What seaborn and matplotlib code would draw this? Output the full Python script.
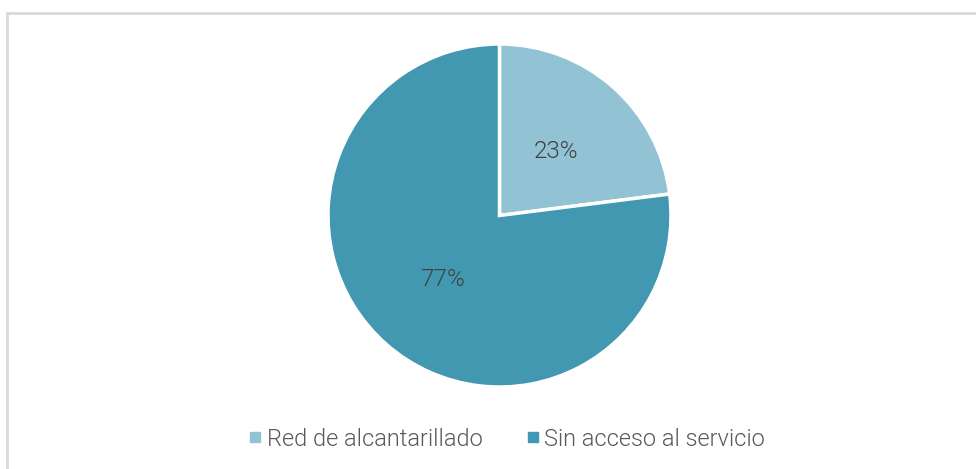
import matplotlib
matplotlib.use('Agg')
import matplotlib.pyplot as plt
from matplotlib.patches import Rectangle
from matplotlib.lines import Line2D
import seaborn as sns

categories = ['Red de alcantarillado', 'Sin acceso al servicio']
shares = [23, 77]
colors = ['#92C3D5', '#4298B0']

sns.set_theme(style='white')
plt.rcParams['font.family'] = ['Roboto', 'DejaVu Sans']

W, H = 976, 469
fig = plt.figure(figsize=(W / 100, H / 100), dpi=100)

# pie centre and radius in pixels
cx, cy, r = 499.5, 215.5, 171.5
ax = fig.add_axes([(cx - r) / W, (H - cy - r) / H, 2 * r / W, 2 * r / H])
wedges, texts, autotexts = ax.pie(
    shares, colors=colors, startangle=90, counterclock=False,
    autopct='%d%%', pctdistance=0.5, radius=1,
    wedgeprops={'edgecolor': 'white', 'linewidth': 2.5},
    textprops={'color': '#404040', 'fontsize': 17.5, 'fontweight': 300})
ax.set_xlim(-1, 1)
ax.set_ylim(-1, 1)
ax.set_aspect('equal')
ax.axis('off')

# legend at bottom
handles = [Line2D([], [], marker='s', linestyle='none', markersize=7,
                  markerfacecolor=c, markeredgecolor=c) for c in colors]
leg = fig.legend(handles, categories, loc='center', bbox_to_anchor=(505 / W, 1 - 439 / H),
                 ncol=2, frameon=False, handletextpad=0.05, columnspacing=1.65,
                 handlelength=0.9, prop={'size': 17, 'weight': 300})
for t in leg.get_texts():
    t.set_color('#595959')

# light frame around the chart area
fig.add_artist(Rectangle((7 / W, -0.1), 1.2, 1 - 13 / H + 0.1, transform=fig.transFigure,
                         fill=False, edgecolor='#D9D9D9', linewidth=2, clip_on=False))

fig.savefig('out.png', dpi=100)
